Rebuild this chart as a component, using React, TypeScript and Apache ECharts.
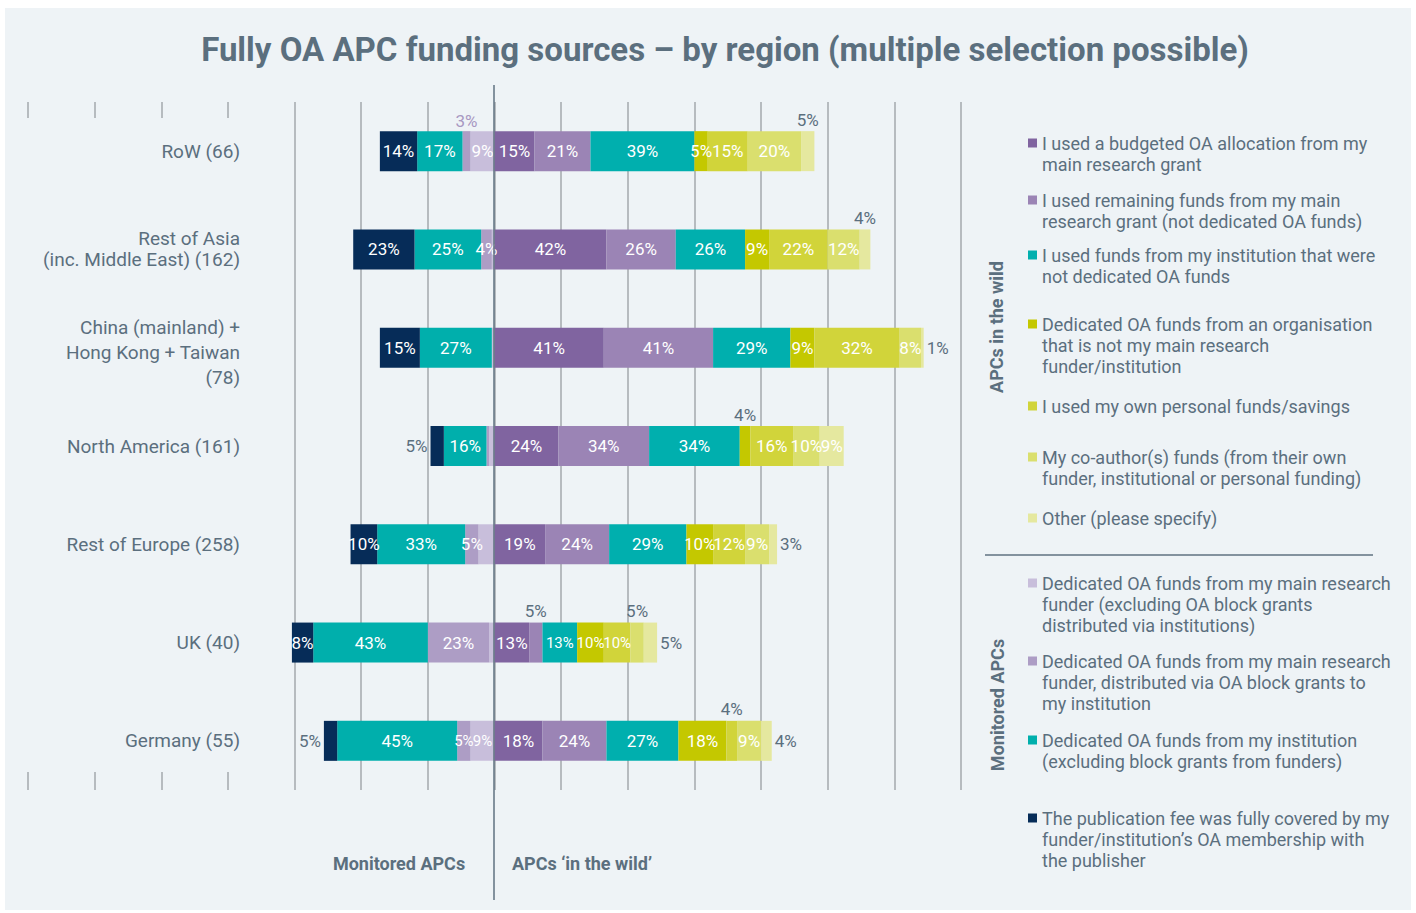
import React, { useEffect, useRef } from "react";
import * as echarts from "echarts";

// ---------- DATA ----------
const regions = [
  "RoW (66)",
  "Rest of Asia\n(inc. Middle East) (162)",
  "China (mainland) +\nHong Kong + Taiwan\n(78)",
  "North America (161)",
  "Rest of Europe (258)",
  "UK (40)",
  "Germany (55)",
];

// Monitored APCs (drawn to the left), innermost first
const exclBlock = [9, 1, 1, 2, 6, 2, 9];
const blockGrants = [3, 4, 0, 1, 5, 23, 5];
const instDedicated = [17, 25, 27, 16, 33, 43, 45];
const membership = [14, 23, 15, 5, 10, 8, 5];

// APCs in the wild (drawn to the right)
const budgeted = [15, 42, 41, 24, 19, 13, 18];
const remaining = [21, 26, 41, 34, 24, 5, 24];
const instNotDedicated = [39, 26, 29, 34, 29, 13, 27];
const otherOrg = [5, 9, 9, 4, 10, 10, 18];
const personal = [15, 22, 32, 16, 12, 10, 4];
const coauthor = [20, 12, 8, 10, 9, 5, 9];
const otherSrc = [5, 4, 1, 9, 3, 5, 4];

const xTicks = { min: -175, max: 175, interval: 25 };

// label placement overrides: [regionIndex, seriesKey, mode]
const labelModes: [number, string, string][] = [
  [0, "block", "topLav"],
  [0, "other", "top"],
  [1, "excl", "none"],
  [1, "other", "top"],
  [2, "excl", "none"],
  [2, "other", "right"],
  [3, "member", "left"],
  [3, "block", "none"],
  [3, "excl", "none"],
  [3, "otherOrg", "top"],
  [4, "excl", "none"],
  [4, "other", "right"],
  [5, "excl", "none"],
  [5, "remaining", "top"],
  [5, "instNot", "small"],
  [5, "otherOrg", "small"],
  [5, "personal", "small"],
  [5, "coauthor", "top"],
  [5, "other", "right"],
  [6, "member", "left"],
  [6, "block", "small"],
  [6, "excl", "small"],
  [6, "personal", "top"],
  [6, "other", "right"],
];

const legendText: Record<string, string> = {
  budgeted: "I used a budgeted OA allocation from my\nmain research grant",
  remaining: "I used remaining funds from my main\nresearch grant (not dedicated OA funds)",
  instNot: "I used funds from my institution that were\nnot dedicated OA funds",
  otherOrg: "Dedicated OA funds from an organisation\nthat is not my main research\nfunder/institution",
  personal: "I used my own personal funds/savings",
  coauthor: "My co-author(s) funds (from their own\nfunder, institutional or personal funding)",
  other: "Other (please specify)",
  excl: "Dedicated OA funds from my main research\nfunder (excluding OA block grants\ndistributed via institutions)",
  block: "Dedicated OA funds from my main research\nfunder, distributed via OA block grants to\nmy institution",
  instDed: "Dedicated OA funds from my institution\n(excluding block grants from funders)",
  member: "The publication fee was fully covered by my\nfunder/institution\u2019s OA membership with\nthe publisher",
};

// ---------- STYLE ----------
const BG = "#eef3f6";
const TXT = "#5b6f7e";
const FONT = "Roboto, 'DejaVu Sans', sans-serif";

const seriesDefs = [
  { key: "excl", side: "L", values: exclBlock, color: "#c8bedb" },
  { key: "block", side: "L", values: blockGrants, color: "#ad9dc5" },
  { key: "instDed", side: "L", values: instDedicated, color: "#00afac" },
  { key: "member", side: "L", values: membership, color: "#062c58" },
  { key: "budgeted", side: "R", values: budgeted, color: "#8064a0" },
  { key: "remaining", side: "R", values: remaining, color: "#9b84b5" },
  { key: "instNot", side: "R", values: instNotDedicated, color: "#00afae" },
  { key: "otherOrg", side: "R", values: otherOrg, color: "#c4c800" },
  { key: "personal", side: "R", values: personal, color: "#d1d43a" },
  { key: "coauthor", side: "R", values: coauthor, color: "#dadf6e" },
  { key: "other", side: "R", values: otherSrc, color: "#e5e89f" },
];

// page-y of first legend line centre
const legendPos: Record<string, number> = {
  budgeted: 143,
  remaining: 200,
  instNot: 255,
  otherOrg: 324,
  personal: 406,
  coauthor: 457,
  other: 518,
  excl: 583,
  block: 661,
  instDed: 740,
  member: 818,
};

const OX = 5;
const OY = 8;
const LH = 21;

function nameOf(key: string) {
  return legendText[key].replace(/\n/g, " ");
}

function labelFor(mode: string | undefined, v: number) {
  if (v === 0 || mode === "none") return { show: false };
  if (!mode) return undefined;
  if (mode === "small") return { show: true, position: "inside", fontSize: 15 };
  if (mode === "topLav") return { show: true, position: "top", color: "#a898c2", distance: 2 };
  return { show: true, position: mode, color: TXT, distance: 3 };
}

export default function App() {
  const ref = useRef<HTMLDivElement>(null);
  useEffect(() => {
    if (!ref.current) return;
    const chart = echarts.init(ref.current, undefined, { renderer: "svg" });

    const series = seriesDefs.map((d) => ({
      type: "bar",
      name: nameOf(d.key),
      stack: "all",
      barWidth: 40,
      itemStyle: { color: d.color },
      label: {
        show: true,
        position: "inside",
        color: "#ffffff",
        fontSize: 17,
        fontFamily: FONT,
        formatter: (p: any) => `${Math.abs(p.value)}%`,
      },
      data: d.values.map((v, i) => {
        const m = labelModes.find((x) => x[0] === i && x[1] === d.key);
        const lab = labelFor(m ? m[2] : undefined, v);
        const value = d.side === "L" ? -v : v;
        return lab ? { value, label: lab } : { value };
      }),
    }));

    // each legend entry: the icon sits beside the first line of its wrapped text
    const legends = seriesDefs.map((d) => {
      const n = legendText[d.key].split("\n").length;
      return {
        data: [nameOf(d.key)],
        left: 1028 - OX,
        top: legendPos[d.key] - OY - (2 * n - 1) * (LH / 2),
        orient: "vertical",
        padding: 0,
        itemWidth: 9,
        itemHeight: 9,
        icon: "rect",
        selectedMode: false,
        formatter: () => "\n".repeat(n - 1) + legendText[d.key],
        textStyle: {
          color: TXT,
          fontSize: 18,
          fontFamily: FONT,
          lineHeight: LH,
        },
      };
    });

    chart.setOption({
      animation: false,
      backgroundColor: BG,
      title: {
        text: "Fully OA APC funding sources \u2013 by region (multiple selection possible)",
        left: 725 - OX,
        top: 33 - OY,
        padding: 0,
        textAlign: "center",
        textStyle: { color: TXT, fontSize: 33, fontWeight: "bold", fontFamily: FONT },
      },
      legend: legends,
      grid: { left: 28 - OX, right: 1406 - (961 - OX), top: 102 - OY, bottom: 902 - (790 - OY) },
      xAxis: {
        type: "value",
        z: 0,
        min: xTicks.min,
        max: xTicks.max,
        interval: xTicks.interval,
        axisLine: { show: false },
        axisTick: { show: false },
        axisLabel: { show: false },
        splitLine: { show: true, lineStyle: { color: "#a3a9ad", width: 1.5 } },
      },
      yAxis: {
        type: "category",
        z: 5,
        inverse: true,
        data: regions,
        axisLine: { show: false },
        axisTick: { show: false },
        splitLine: { show: false },
        axisLabel: {
          inside: true,
          align: "right",
          margin: 240 - 28,
          color: TXT,
          fontSize: 19,
          fontFamily: FONT,
          formatter: (v: string) => {
            const lines = v.split("\n");
            if (lines.length > 2) {
              return "{e| }\n" + lines.map((l) => `{w|${l}}`).join("\n");
            }
            return lines.map((l) => `{s|${l}}`).join("\n");
          },
          rich: {
            e: { lineHeight: 10, fontSize: 4, color: TXT, align: "right" },
            s: { lineHeight: 21, fontSize: 19, color: TXT, fontFamily: FONT, align: "right" },
            w: { lineHeight: 25, fontSize: 19, color: TXT, fontFamily: FONT, align: "right" },
          },
        },
      },
      series,
      graphic: [
        { type: "rect", z: 1, shape: { x: 14 - OX, y: 118 - OY, width: 276, height: 654 }, style: { fill: BG } },
        { type: "line", z: 10, shape: { x1: 494 - OX, y1: 85 - OY, x2: 494 - OX, y2: 900 - OY }, style: { stroke: "#5f7280", lineWidth: 1.5 } },
        { type: "line", z: 10, shape: { x1: 985 - OX, y1: 555 - OY, x2: 1373 - OX, y2: 555 - OY }, style: { stroke: "#5f7280", lineWidth: 1.5 } },
        {
          type: "text", z: 10, x: 996 - OX, y: 327 - OY, rotation: Math.PI / 2,
          style: { text: "APCs in the wild", fill: TXT, font: `bold 18px ${FONT}`, align: "center", verticalAlign: "middle" },
        },
        {
          type: "text", z: 10, x: 997 - OX, y: 705 - OY, rotation: Math.PI / 2,
          style: { text: "Monitored APCs", fill: TXT, font: `bold 18px ${FONT}`, align: "center", verticalAlign: "middle" },
        },
        {
          type: "text", z: 10, x: 399 - OX, y: 863 - OY,
          style: { text: "Monitored APCs", fill: TXT, font: `bold 18px ${FONT}`, align: "center", verticalAlign: "middle" },
        },
        {
          type: "text", z: 10, x: 582 - OX, y: 863 - OY,
          style: { text: "APCs \u2018in the wild\u2019", fill: TXT, font: `bold 18px ${FONT}`, align: "center", verticalAlign: "middle" },
        },
      ],
    });
    return () => chart.dispose();
  }, []);
  return (
    <div
      ref={ref}
      style={{ position: "absolute", left: OX, top: OY, width: 1406, height: 902 }}
    />
  );
}
